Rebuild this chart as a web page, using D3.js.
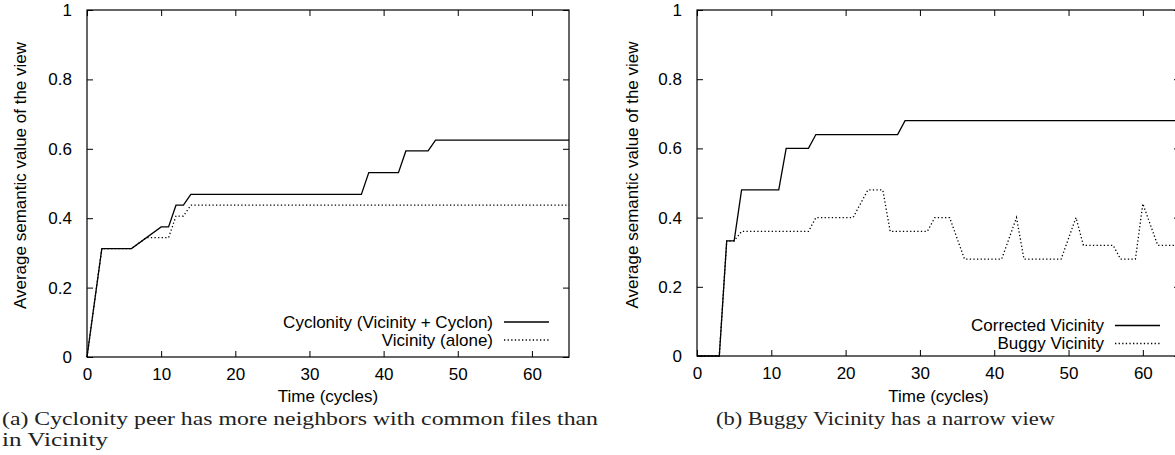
<!DOCTYPE html>
<html>
<head>
<meta charset="utf-8">
<script src="https://cdn.jsdelivr.net/npm/d3@7"></script>
<style>
  html, body { margin: 0; padding: 0; background: #fff; }
  svg { display: block; }
  .ax text { font-family: "Liberation Sans", Arial, sans-serif; font-size: 17px; fill: #000; }
  .cap { font-family: "Liberation Serif", "DejaVu Serif", serif; font-size: 19px; fill: #222; }
</style>
</head>
<body>
<svg id="chart" width="1175" height="455"></svg>
<script>
// ---------------- data ----------------
const xTicks = [0, 10, 20, 30, 40, 50, 60];
const yTicks = [0, 0.2, 0.4, 0.6, 0.8, 1];
const xTitle = "Time (cycles)";
const yTitle = "Average semantic value of the view";

// (a) left panel
const cyclonityT = [0, 2, 6, 10, 11, 12, 13, 14, 37, 38, 42, 43, 46, 47, 65];
const cyclonityV = [0, 0.3125, 0.3125, 0.375, 0.375, 0.4375, 0.4375, 0.46875, 0.46875, 0.53125, 0.53125, 0.59375, 0.59375, 0.625, 0.625];
const vicinityT = [0, 2, 6, 8, 11, 12, 13, 14, 65];
const vicinityV = [0, 0.3125, 0.3125, 0.34375, 0.34375, 0.40625, 0.40625, 0.4375, 0.4375];
const legendA = ["Cyclonity (Vicinity + Cyclon)", "Vicinity (alone)"];
const captionA = ["(a) Cyclonity peer has more neighbors with common files than", "in Vicinity"];

// (b) right panel
const correctedT = [0, 3, 4, 5, 6, 11, 12, 15, 16, 27, 28, 65];
const correctedV = [0, 0, 0.333, 0.333, 0.48, 0.48, 0.6, 0.6, 0.64, 0.64, 0.68, 0.68];
const buggyT = [0, 3, 4, 5, 6, 15, 16, 21, 23, 25, 26, 31, 32, 34, 36, 41, 43, 44, 49, 51, 52, 56, 57, 59, 60, 62, 65];
const buggyV = [0, 0, 0.333, 0.333, 0.36, 0.36, 0.4, 0.4, 0.48, 0.48, 0.36, 0.36, 0.4, 0.4, 0.28, 0.28, 0.4, 0.28, 0.28, 0.4, 0.32, 0.32, 0.28, 0.28, 0.44, 0.32, 0.32];
const legendB = ["Corrected Vicinity", "Buggy Vicinity"];
const captionB = ["(b) Buggy Vicinity has a narrow view"];

// ---------------- drawing ----------------
const svg = d3.select("#chart");
const DOTTED = "1.3,2.3";

function zip(ts, vs) { return ts.map((t, i) => ({ t: t, v: vs[i] })); }

function panel(cfg) {
  const x = d3.scaleLinear().domain([0, 65]).range([cfg.x0, cfg.x1]);
  const y = d3.scaleLinear().domain([0, 1]).range([cfg.y1, cfg.y0]);
  const g = svg.append("g").attr("class", "ax");
  const tl = 6;

  // axes with inward ticks (gnuplot style) on all four sides
  const bottom = g.append("g").attr("transform", `translate(0,${cfg.y1})`)
    .call(d3.axisBottom(x).tickValues(xTicks).tickSizeInner(-tl).tickSizeOuter(0).tickPadding(11).tickFormat(d3.format("d")));
  const top = g.append("g").attr("transform", `translate(0,${cfg.y0})`)
    .call(d3.axisTop(x).tickValues(xTicks).tickSizeInner(-tl).tickSizeOuter(0).tickFormat(""));
  const left = g.append("g").attr("transform", `translate(${cfg.x0},0)`)
    .call(d3.axisLeft(y).tickValues(yTicks).tickSizeInner(-tl).tickSizeOuter(0).tickPadding(15).tickFormat(d => d === 0 ? "0" : d === 1 ? "1" : d3.format(".1f")(d)));
  const right = g.append("g").attr("transform", `translate(${cfg.x1},0)`)
    .call(d3.axisRight(y).tickValues(yTicks).tickSizeInner(-tl).tickSizeOuter(0).tickFormat(""));
  [bottom, top, left, right].forEach(a => {
    a.select(".domain").remove();
    a.selectAll("line").attr("stroke", "#000").attr("stroke-width", 1);
    a.selectAll("text").attr("font-family", null).attr("font-size", null);
  });
  bottom.selectAll("text").attr("dy", "0.71em");

  // border
  g.append("rect").attr("x", cfg.x0).attr("y", cfg.y0)
    .attr("width", cfg.x1 - cfg.x0).attr("height", cfg.y1 - cfg.y0)
    .attr("fill", "none").attr("stroke", "#000").attr("stroke-width", 1.2);

  // titles
  g.append("text").attr("x", (cfg.x0 + cfg.x1) / 2).attr("y", 402)
    .attr("text-anchor", "middle").text(xTitle);
  g.append("text").attr("transform", `translate(${cfg.yTitleX},${(cfg.y0 + cfg.y1) / 2 - 8}) rotate(-90)`)
    .attr("text-anchor", "middle").attr("dy", "0.35em").text(yTitle);

  // series
  const line = d3.line().x(d => x(d.t)).y(d => y(d.v));
  cfg.series.forEach(s => {
    g.append("path").datum(zip(s.t, s.v)).attr("d", line)
      .attr("fill", "none").attr("stroke", "#000").attr("stroke-width", 1.3)
      .attr("stroke-dasharray", s.dash ? DOTTED : null);
  });

  // legend
  cfg.series.forEach((s, i) => {
    const ly = cfg.legY + i * cfg.legStep;
    g.append("text").attr("x", cfg.legTextX).attr("y", ly).attr("dy", "0.35em")
      .attr("text-anchor", "end").text(s.name);
    g.append("line").attr("x1", cfg.legTextX + 11).attr("x2", cfg.legTextX + 56)
      .attr("y1", ly).attr("y2", ly).attr("stroke", "#000").attr("stroke-width", 1.3)
      .attr("stroke-dasharray", s.dash ? DOTTED : null);
  });

  // caption
  cfg.caption.forEach((c, i) => {
    svg.append("text").attr("class", "cap").attr("x", cfg.capX).attr("y", 425 + i * 21)
      .attr("textLength", cfg.capW[i]).attr("lengthAdjust", "spacingAndGlyphs").text(c);
  });
}

panel({
  x0: 87, x1: 569, y0: 10, y1: 357, yTitleX: 20,
  legTextX: 493, legY: 322, legStep: 18,
  series: [
    { name: legendA[0], t: cyclonityT, v: cyclonityV, dash: false },
    { name: legendA[1], t: vicinityT, v: vicinityV, dash: true }
  ],
  caption: captionA, capX: 2, capW: [596, 106]
});

panel({
  x0: 697, x1: 1180, y0: 10, y1: 356, yTitleX: 632,
  legTextX: 1104, legY: 325.5, legStep: 18,
  series: [
    { name: legendB[0], t: correctedT, v: correctedV, dash: false },
    { name: legendB[1], t: buggyT, v: buggyV, dash: true }
  ],
  caption: captionB, capX: 716, capW: [339]
});
</script>
</body>
</html>
